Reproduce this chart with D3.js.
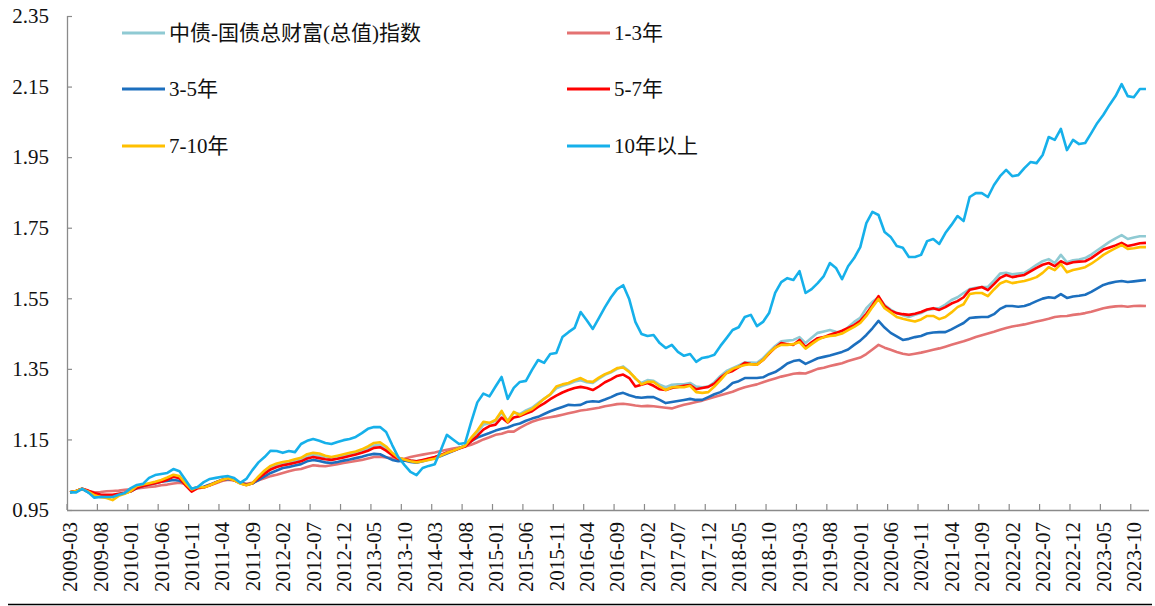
<!DOCTYPE html>
<html>
<head>
<meta charset="utf-8">
<script src="https://cdn.jsdelivr.net/npm/d3@7"></script>
<style>
  html, body { margin: 0; padding: 0; background: #fff; }
  svg text { font-family: "Liberation Serif", "Times New Roman", "Noto Sans CJK SC", serif; fill: #111; }
</style>
</head>
<body>
<svg id="chart" width="1155" height="606"></svg>
<script>
// ---- categories (monthly, 2009-03 .. 2023-12) ----
const months = d3.timeMonths(new Date(2009, 2, 1), new Date(2024, 0, 1)).map(d3.timeFormat("%Y-%m"));

const tickLabels = ["2009-03","2009-08","2010-01","2010-06","2010-11","2011-04","2011-09","2012-02","2012-07","2012-12",
  "2013-05","2013-10","2014-03","2014-08","2015-01","2015-06","2015-11","2016-04","2016-09","2017-02","2017-07","2017-12",
  "2018-05","2018-10","2019-03","2019-08","2020-01","2020-06","2020-11","2021-04","2021-09","2022-02","2022-07","2022-12",
  "2023-05","2023-10"];

const yTicks = [0.95, 1.15, 1.35, 1.55, 1.75, 1.95, 2.15, 2.35];

const seriesNames = ["中债-国债总财富(总值)指数", "1-3年", "3-5年", "5-7年", "7-10年", "10年以上"];
const seriesColors = ["#8fcad3", "#e47272", "#1c6fbe", "#ff0000", "#ffc000", "#16b0ea"];

// ---- series values (one per month) ----
const totalIndex = [
  1.000,1.004,1.010,1.003,0.994,0.990,0.989,0.988,0.993,0.998,
  1.003,1.015,1.020,1.024,1.028,1.032,1.039,1.047,1.043,1.023,1.006,1.014,
  1.015,1.021,1.029,1.036,1.040,1.035,1.026,1.021,1.026,1.042,1.057,1.070,
  1.077,1.082,1.085,1.090,1.094,1.103,1.107,1.104,1.100,1.097,1.100,1.104,
  1.108,1.112,1.117,1.124,1.133,1.135,1.125,1.110,1.098,1.094,1.090,1.088,
  1.091,1.095,1.099,1.106,1.113,1.119,1.126,1.132,1.152,1.170,1.192,1.196,
  1.203,1.226,1.203,1.226,1.222,1.232,1.240,1.253,1.266,1.277,1.295,1.302,
  1.307,1.314,1.318,1.312,1.310,1.322,1.333,1.340,1.350,1.357,1.343,1.322,
  1.310,1.318,1.316,1.305,1.298,1.305,1.306,1.306,1.310,1.300,1.298,1.300,
  1.312,1.330,1.344,1.352,1.360,1.368,1.368,1.367,1.380,1.398,1.415,1.428,
  1.430,1.432,1.440,1.423,1.438,1.452,1.456,1.460,1.455,1.452,1.468,1.483,
  1.495,1.522,1.540,1.553,1.531,1.518,1.508,1.502,1.497,1.503,1.508,1.517,
  1.520,1.522,1.532,1.545,1.553,1.565,1.576,1.580,1.582,1.582,1.600,1.620,
  1.622,1.618,1.620,1.622,1.633,1.645,1.655,1.661,1.650,1.673,1.652,1.658,
  1.660,1.664,1.674,1.686,1.698,1.710,1.720,1.729,1.718,1.722,1.726,1.726];

const y1to3 = [
  1.000,1.004,1.010,1.003,1.000,1.001,1.003,1.004,1.005,1.007,
  1.009,1.011,1.013,1.015,1.017,1.020,1.022,1.025,1.027,1.024,1.010,1.013,
  1.015,1.020,1.026,1.032,1.036,1.034,1.028,1.024,1.027,1.034,1.040,1.046,
  1.050,1.055,1.060,1.064,1.066,1.072,1.077,1.075,1.074,1.077,1.080,1.083,
  1.086,1.089,1.092,1.096,1.100,1.101,1.099,1.097,1.094,1.095,1.100,1.104,
  1.107,1.110,1.113,1.117,1.121,1.124,1.127,1.130,1.135,1.142,1.150,1.156,
  1.163,1.166,1.172,1.172,1.183,1.192,1.200,1.206,1.210,1.213,1.216,1.220,
  1.224,1.228,1.232,1.234,1.237,1.240,1.244,1.247,1.250,1.251,1.249,1.246,
  1.244,1.245,1.244,1.242,1.240,1.238,1.243,1.248,1.252,1.256,1.260,1.265,
  1.270,1.275,1.280,1.285,1.292,1.298,1.302,1.306,1.312,1.318,1.323,1.328,
  1.332,1.336,1.338,1.337,1.343,1.350,1.353,1.358,1.362,1.366,1.372,1.377,
  1.382,1.392,1.405,1.418,1.410,1.404,1.398,1.393,1.390,1.393,1.396,1.400,
  1.404,1.408,1.413,1.418,1.423,1.428,1.434,1.440,1.445,1.450,1.455,1.461,
  1.466,1.470,1.473,1.476,1.480,1.484,1.488,1.492,1.497,1.499,1.500,1.503,
  1.505,1.508,1.512,1.517,1.522,1.525,1.527,1.528,1.526,1.528,1.529,1.528];

const y3to5 = [
  1.000,1.004,1.010,1.000,0.990,0.987,0.988,0.990,0.994,0.998,
  1.003,1.012,1.018,1.022,1.026,1.030,1.032,1.035,1.033,1.025,1.010,1.014,
  1.016,1.022,1.029,1.035,1.038,1.035,1.027,1.022,1.025,1.035,1.045,1.055,
  1.062,1.069,1.072,1.076,1.080,1.088,1.092,1.089,1.085,1.083,1.086,1.090,
  1.093,1.097,1.101,1.106,1.109,1.108,1.100,1.092,1.088,1.090,1.086,1.084,
  1.088,1.093,1.097,1.103,1.110,1.117,1.125,1.132,1.145,1.155,1.162,1.168,
  1.175,1.180,1.184,1.191,1.195,1.203,1.209,1.214,1.222,1.230,1.236,1.242,
  1.248,1.247,1.248,1.256,1.258,1.257,1.263,1.270,1.278,1.282,1.275,1.270,
  1.268,1.270,1.270,1.262,1.253,1.256,1.259,1.262,1.265,1.262,1.262,1.270,
  1.278,1.284,1.295,1.310,1.315,1.324,1.324,1.324,1.326,1.335,1.341,1.352,
  1.365,1.372,1.375,1.364,1.372,1.380,1.384,1.388,1.393,1.398,1.405,1.418,
  1.430,1.446,1.465,1.486,1.467,1.452,1.442,1.432,1.435,1.440,1.443,1.450,
  1.453,1.454,1.454,1.462,1.471,1.480,1.494,1.496,1.497,1.497,1.505,1.520,
  1.528,1.528,1.526,1.528,1.534,1.542,1.549,1.553,1.551,1.562,1.551,1.555,
  1.557,1.560,1.568,1.578,1.588,1.593,1.597,1.599,1.596,1.598,1.600,1.602];

const y5to7 = [
  1.000,1.004,1.010,1.005,0.998,0.994,0.993,0.993,0.996,0.999,
  1.003,1.013,1.018,1.022,1.026,1.030,1.036,1.044,1.040,1.020,1.002,1.012,
  1.014,1.020,1.028,1.035,1.039,1.034,1.026,1.021,1.026,1.040,1.053,1.065,
  1.072,1.077,1.080,1.084,1.088,1.096,1.100,1.097,1.094,1.092,1.095,1.099,
  1.103,1.107,1.112,1.118,1.126,1.128,1.118,1.105,1.095,1.094,1.090,1.088,
  1.092,1.096,1.100,1.106,1.113,1.118,1.124,1.130,1.145,1.160,1.178,1.188,
  1.192,1.212,1.198,1.212,1.216,1.223,1.230,1.242,1.252,1.264,1.274,1.283,
  1.290,1.296,1.299,1.296,1.290,1.300,1.312,1.320,1.330,1.334,1.324,1.300,
  1.305,1.310,1.302,1.292,1.290,1.296,1.299,1.302,1.304,1.292,1.296,1.299,
  1.308,1.325,1.338,1.344,1.355,1.367,1.364,1.362,1.375,1.393,1.410,1.423,
  1.420,1.418,1.432,1.412,1.425,1.437,1.440,1.447,1.452,1.458,1.466,1.474,
  1.486,1.506,1.530,1.556,1.528,1.515,1.508,1.505,1.503,1.506,1.511,1.518,
  1.522,1.517,1.525,1.535,1.542,1.553,1.574,1.578,1.582,1.573,1.590,1.608,
  1.616,1.610,1.613,1.616,1.626,1.636,1.645,1.650,1.641,1.655,1.647,1.652,
  1.654,1.655,1.664,1.676,1.688,1.694,1.700,1.707,1.698,1.702,1.706,1.707];

const y7to10 = [
  1.000,1.004,1.010,1.002,0.992,0.987,0.984,0.978,0.990,0.996,
  1.004,1.018,1.022,1.026,1.030,1.035,1.042,1.050,1.046,1.025,1.008,1.015,
  1.014,1.020,1.028,1.035,1.040,1.034,1.025,1.020,1.026,1.045,1.062,1.075,
  1.082,1.086,1.089,1.094,1.098,1.108,1.112,1.110,1.104,1.100,1.104,1.108,
  1.112,1.116,1.122,1.130,1.140,1.142,1.130,1.112,1.098,1.093,1.088,1.085,
  1.088,1.092,1.095,1.104,1.112,1.118,1.125,1.132,1.155,1.175,1.200,1.197,
  1.205,1.231,1.200,1.228,1.219,1.228,1.236,1.250,1.265,1.278,1.300,1.306,
  1.310,1.318,1.324,1.315,1.313,1.325,1.335,1.342,1.352,1.354,1.341,1.324,
  1.306,1.313,1.313,1.300,1.290,1.298,1.299,1.298,1.302,1.284,1.282,1.284,
  1.300,1.318,1.338,1.350,1.356,1.361,1.363,1.362,1.375,1.395,1.410,1.418,
  1.418,1.420,1.426,1.407,1.420,1.432,1.440,1.443,1.445,1.450,1.460,1.469,
  1.480,1.500,1.525,1.548,1.522,1.510,1.497,1.492,1.488,1.484,1.490,1.500,
  1.500,1.491,1.497,1.510,1.525,1.533,1.562,1.565,1.565,1.556,1.575,1.592,
  1.599,1.593,1.596,1.599,1.604,1.610,1.622,1.638,1.630,1.647,1.624,1.630,
  1.634,1.638,1.648,1.660,1.673,1.683,1.692,1.701,1.690,1.692,1.695,1.695];

const y10plus = [
  1.000,1.000,1.010,1.000,0.985,0.987,0.987,0.987,0.993,0.998,
  1.012,1.021,1.024,1.041,1.049,1.052,1.055,1.066,1.060,1.035,1.010,1.015,
  1.029,1.038,1.041,1.044,1.046,1.041,1.027,1.038,1.063,1.085,1.100,1.118,
  1.117,1.112,1.117,1.114,1.137,1.146,1.151,1.146,1.140,1.137,1.143,1.148,
  1.151,1.157,1.168,1.180,1.185,1.185,1.171,1.134,1.100,1.078,1.058,1.049,
  1.069,1.075,1.080,1.120,1.163,1.150,1.137,1.140,1.200,1.255,1.280,1.272,
  1.300,1.327,1.265,1.296,1.313,1.316,1.347,1.375,1.367,1.392,1.395,1.440,
  1.454,1.466,1.511,1.488,1.463,1.494,1.525,1.553,1.576,1.587,1.547,1.483,
  1.449,1.443,1.446,1.423,1.409,1.418,1.398,1.387,1.392,1.370,1.381,1.384,
  1.390,1.415,1.437,1.460,1.468,1.497,1.503,1.471,1.483,1.508,1.565,1.596,
  1.607,1.602,1.627,1.565,1.576,1.593,1.613,1.650,1.636,1.604,1.641,1.664,
  1.695,1.763,1.795,1.786,1.738,1.724,1.698,1.693,1.667,1.667,1.673,1.712,
  1.718,1.704,1.735,1.758,1.783,1.769,1.837,1.848,1.848,1.837,1.871,1.896,
  1.914,1.896,1.899,1.919,1.936,1.933,1.956,2.007,1.999,2.030,1.970,1.999,
  1.987,1.990,2.018,2.047,2.070,2.098,2.123,2.157,2.123,2.120,2.143,2.143];

const seriesValues = [totalIndex, y1to3, y3to5, y5to7, y7to10, y10plus];

// ---- drawing ----
const svg = d3.select("#chart");
const plotLeft = 67, plotRight = 1149, plotTop = 16, plotBottom = 510;

const x = d3.scaleBand().domain(months).range([plotLeft, plotRight]).paddingInner(0).paddingOuter(0);
const y = d3.scaleLinear().domain([0.95, 2.35]).range([plotBottom, plotTop]);
const axisColor = "#8a8a8a";

// y axis
const yAxis = svg.append("g").attr("transform", `translate(${plotLeft},0)`)
  .call(d3.axisRight(y).tickValues(yTicks).tickSize(5).tickFormat(""));
yAxis.select(".domain").attr("stroke", axisColor).attr("stroke-width", 1.3).attr("d", `M0.5,${plotTop}V${plotBottom}`);
yAxis.selectAll(".tick line").attr("stroke", axisColor).attr("stroke-width", 1.2);
svg.append("g").selectAll("text").data(yTicks).join("text")
  .attr("x", 49).attr("y", d => y(d)).attr("dy", "0.35em")
  .attr("text-anchor", "end").attr("font-size", 21)
  .text(d => d3.format(".2f")(d));

// x axis: ticks between categories every 5 months, labels at category centres
const tickBoundaries = tickLabels.map(m => x(m));
const xg = svg.append("g");
xg.append("line").attr("x1", plotLeft).attr("x2", plotRight).attr("y1", plotBottom + 0.5).attr("y2", plotBottom + 0.5)
  .attr("stroke", axisColor).attr("stroke-width", 1.3);
xg.selectAll("line.tk").data(tickBoundaries).join("line").attr("class", "tk")
  .attr("x1", d => d).attr("x2", d => d).attr("y1", plotBottom - 6).attr("y2", plotBottom)
  .attr("stroke", axisColor).attr("stroke-width", 1.2);
xg.selectAll("text").data(tickLabels).join("text")
  .attr("transform", d => `translate(${x(d) + x.bandwidth() / 2},522) rotate(-90)`)
  .attr("dy", "0.35em").attr("text-anchor", "end").attr("font-size", 21)
  .text(d => d);

// lines
const line = d3.line()
  .x((d, i) => x(months[i]) + x.bandwidth() / 2)
  .y(d => y(d));
svg.append("g").selectAll("path").data(seriesValues).join("path")
  .attr("d", d => line(d))
  .attr("fill", "none")
  .attr("stroke", (d, i) => seriesColors[i])
  .attr("stroke-width", 2.6)
  .attr("stroke-linejoin", "round");

// legend
const legendPos = [[122, 33], [567, 33], [122, 89], [567, 89], [122, 146], [567, 146]];
const lg = svg.append("g").selectAll("g").data(seriesNames).join("g")
  .attr("transform", (d, i) => `translate(${legendPos[i][0]},${legendPos[i][1]})`);
lg.append("line").attr("x1", 0).attr("x2", 43).attr("y1", 0).attr("y2", 0)
  .attr("stroke", (d, i) => seriesColors[i]).attr("stroke-width", 3);
lg.append("text").attr("x", 47).attr("dy", "0.35em").attr("font-size", 21)
  .style("font-family", "'Liberation Serif', 'Noto Sans CJK SC', serif")
  .text(d => d);

// bottom rule
svg.append("line").attr("x1", 8).attr("x2", 1152).attr("y1", 604.5).attr("y2", 604.5)
  .attr("stroke", "#000").attr("stroke-width", 1.5);
</script>
</body>
</html>
